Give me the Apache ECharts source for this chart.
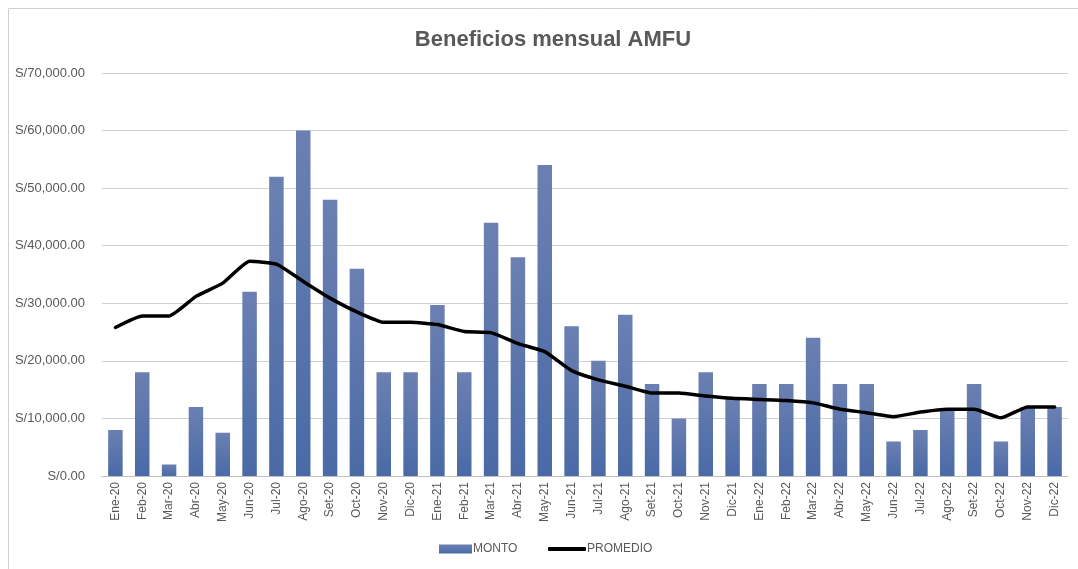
<!DOCTYPE html>
<html>
<head>
<meta charset="utf-8">
<script src="https://cdn.jsdelivr.net/npm/echarts@6/dist/echarts.min.js"></script>
<style>
html, body { margin: 0; padding: 0; background: #fff; }
#Root { width: 1078px; height: 569px; }
</style>
</head>
<body>
<div id="Root"></div>
<script>
// datos
let meses = ["Ene-20","Feb-20","Mar-20","Abr-20","May-20","Jun-20","Jul-20","Ago-20","Set-20","Oct-20","Nov-20","Dic-20",
    "Ene-21","Feb-21","Mar-21","Abr-21","May-21","Jun-21","Jul-21","Ago-21","Set-21","Oct-21","Nov-21","Dic-21",
    "Ene-22","Feb-22","Mar-22","Abr-22","May-22","Jun-22","Jul-22","Ago-22","Set-22","Oct-22","Nov-22","Dic-22"]
let monto = [8000, 18000, 2000, 12000, 7500, 32000, 52000, 60000, 48000, 36000, 18000, 18000,
    29700, 18000, 44000, 38000, 54000, 26000, 20000, 28000, 16000, 10000, 18000, 13500,
    16000, 16000, 24000, 16000, 16000, 6000, 8000, 11500, 16000, 6000, 12000, 12000]
let promedio = [25800, 27800, 27800, 31200, 33500, 37300, 36800, 33800, 30900, 28500, 26700, 26700,
    26300, 25100, 24900, 23000, 21600, 18300, 16700, 15600, 14400, 14400, 13900, 13500,
    13300, 13100, 12700, 11600, 11000, 10300, 11100, 11600, 11600, 10100, 12000, 12000]

let fuente = "'Liberation Sans Narrow', 'Arial Narrow', 'Liberation Sans', sans-serif"

let chart = echarts.init(document.getElementById("Root"))

let options = {
    textStyle: { fontFamily: fuente },
    title: {
        text: "Beneficios mensual AMFU",
        left: 548,
        top: 24,
        textAlign: "center",
        textStyle: { fontFamily: fuente, fontSize: 22, fontWeight: "bold", color: "#595959" }
    },
    graphic: [{
        type: "rect",
        shape: { x: 8.5, y: 8.5, width: 1100, height: 600 },
        style: { fill: "none", stroke: "#d0d0d0", lineWidth: 1 },
        silent: true
    }],
    legend: [
        {
            bottom: 9,
            left: 434,
            itemWidth: 33,
            itemHeight: 9,
            textStyle: { fontFamily: fuente, fontSize: 12, color: "#595959", padding: [0, 0, 0, -4] },
            data: [{ name: "MONTO", icon: "rect" }]
        },
        {
            bottom: 9,
            left: 543,
            itemWidth: 38,
            itemHeight: 4,
            textStyle: { fontFamily: fuente, fontSize: 12, color: "#595959", padding: [0, 0, 0, -4] },
            data: [{ name: "PROMEDIO", icon: "roundRect" }]
        }
    ],
    grid: { left: 102, right: 10, top: 73, bottom: 93, containLabel: false },
    xAxis: {
        type: "category",
        data: meses,
        axisTick: { show: false },
        axisLine: { lineStyle: { color: "#bfbfbf", width: 1 } },
        axisLabel: {
            rotate: 90,
            interval: 0,
            margin: 6,
            fontFamily: fuente,
            fontSize: 12,
            color: "#595959"
        }
    },
    yAxis: {
        type: "value",
        min: 0,
        max: 70000,
        interval: 10000,
        axisLine: { show: false },
        axisTick: { show: false },
        splitLine: { lineStyle: { color: "#d0d0d0", width: 1 } },
        axisLabel: {
            margin: 17,
            fontFamily: fuente,
            fontSize: 13,
            color: "#595959",
            formatter: function (v) {
                return "S/" + v.toLocaleString("en-US") + ".00"
            }
        }
    },
    series: [
        {
            name: "MONTO",
            type: "bar",
            data: monto,
            barWidth: "54%",
            itemStyle: {
                color: new echarts.graphic.LinearGradient(0, 0, 0, 1, [
                    { offset: 0, color: "#6b80b2" },
                    { offset: 1, color: "#4a6aa6" }
                ]),
                shadowColor: "rgba(0,0,0,0.35)",
                shadowBlur: 3,
                shadowOffsetX: 1,
                shadowOffsetY: 0
            }
        },
        {
            name: "PROMEDIO",
            type: "line",
            data: promedio,
            symbol: "none",
            smooth: 0.15,
            lineStyle: { color: "#000", width: 3.5, cap: "round", join: "round" },
            itemStyle: { color: "#000" }
        }
    ]
}

chart.setOption(options)
</script>
</body>
</html>
